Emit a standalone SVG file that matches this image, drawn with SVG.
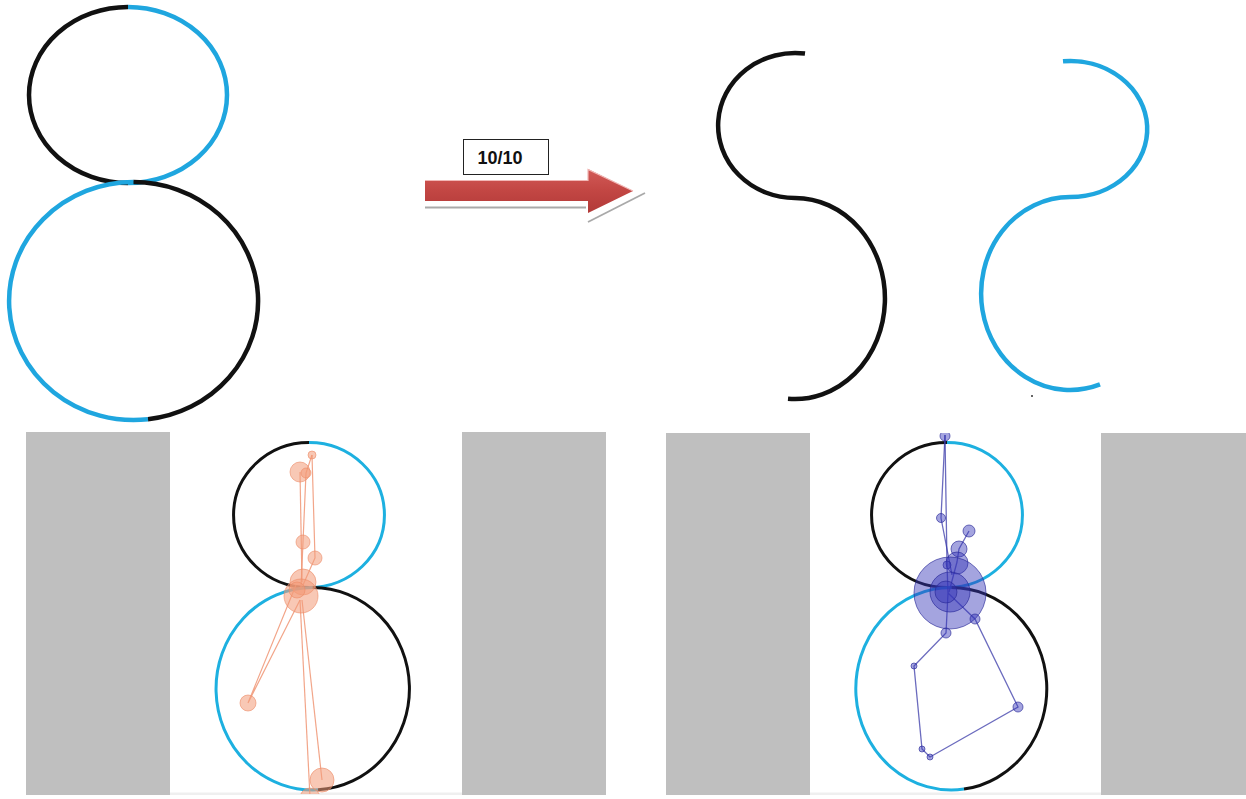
<svg xmlns="http://www.w3.org/2000/svg" width="1246" height="799" viewBox="0 0 1246 799">
  <style>
    .blk { fill: none; stroke: #111; stroke-linecap: butt; }
    .cyn { fill: none; stroke: #1fa6df; stroke-linecap: butt; }
    .big { stroke-width: 4.5; }
    .thin { stroke-width: 3; }
    .cyn2 { fill: none; stroke: #1db0e0; stroke-linecap: butt; }
    .panel { fill: #bfbfbf; }
    .og-line { stroke: #ef8f6c; stroke-opacity: 0.8; stroke-width: 1.2; fill: none; }
    .og-dot { fill: #f39a78; fill-opacity: 0.55; stroke: #ec8a66; stroke-opacity: 0.6; stroke-width: 1; }
    .bl-line { stroke: #3a3aa8; stroke-opacity: 0.75; stroke-width: 1.3; fill: none; }
    .bl-dot { fill: #3535b8; fill-opacity: 0.45; stroke: #2a2a98; stroke-opacity: 0.65; stroke-width: 1; }
    .lbl { font-family: "Liberation Sans", Arial, sans-serif; font-weight: bold; font-size: 18px; fill: #111; }
  </style>
  <defs>
    <linearGradient id="arrowFill" x1="0" y1="0" x2="0" y2="1">
      <stop offset="0" stop-color="#d25a57"/>
      <stop offset="0.5" stop-color="#c24643"/>
      <stop offset="1" stop-color="#b23a38"/>
    </linearGradient>
    <clipPath id="clipL"><rect x="170" y="432" width="292" height="362"/></clipPath>
    <clipPath id="clipR"><rect x="810" y="433" width="291" height="361"/></clipPath>
  </defs>

  <rect width="1246" height="799" fill="#fff"/>

  <!-- figure eight, two-coloured -->
  <g id="eight-top">
    <path class="blk big" d="M128,7 A99,88 0 0 0 128,183"/>
    <path class="cyn big" d="M128,7 A99,88 0 0 1 128,183"/>
    <path class="cyn big" d="M133.5,182 A124.5,119 0 1 0 148,419.2"/>
    <path class="blk big" d="M148,419.2 A124.5,119 0 0 0 133.5,182"/>
  </g>

  <!-- arrow with score label -->
  <g id="arrow">
    <line x1="425" y1="207.5" x2="586" y2="207.5" stroke="#a9a9a9" stroke-width="1.8"/>
    <line x1="588" y1="222" x2="645" y2="193" stroke="#a9a9a9" stroke-width="1.8"/>
    <polygon points="425,180 588,180 588,169 633,191 588,213 588,201 425,201" fill="url(#arrowFill)"/>
    <polyline points="425,180.5 588,180.5 588,169.5 633,191" fill="none" stroke="#f1b7b5" stroke-width="1.2"/>
  </g>
  <g id="label">
    <rect x="463.5" y="139.5" width="85" height="35" fill="#fff" stroke="#222" stroke-width="1"/>
    <text class="lbl" x="500" y="163.5" text-anchor="middle">10/10</text>
  </g>

  <!-- the two split strokes -->
  <g id="stroke-black">
    <path class="blk big" d="M805,53.6 A77,72.5 0 1 0 795,198"/>
    <path class="blk big" d="M795,198 A90,100.5 0 1 1 788,398.7"/>
  </g>
  <g id="stroke-cyan">
    <path class="cyn big" d="M1063,61.3 A77,68 0 1 1 1070,197"/>
    <path class="cyn big" d="M1070,197 A89,96.5 0 1 0 1100,384.4"/>
  </g>
  <circle cx="1032" cy="396" r="1" fill="#333"/>

  <!-- grey side panels -->
  <g id="panels">
    <rect class="panel" x="26" y="432" width="144" height="363"/>
    <rect class="panel" x="462" y="432" width="144" height="363"/>
    <rect class="panel" x="666" y="433" width="144" height="362"/>
    <rect class="panel" x="1101" y="433" width="145" height="362"/>
    <rect x="170" y="792.5" width="292" height="2.5" fill="#efefef"/>
    <rect x="810" y="792.5" width="291" height="2.5" fill="#efefef"/>
  </g>

  <!-- left trace -->
  <g id="trace-left">
    <path class="blk thin" d="M309,442.5 A75.5,72.5 0 0 0 309,587.5"/>
    <path class="cyn2 thin" d="M309,442.5 A75.5,72.5 0 0 1 309,587.5"/>
    <path class="cyn2 thin" d="M312.7,587.5 A96.7,101.25 0 1 0 318,789.85"/>
    <path class="blk thin" d="M318,789.85 A96.7,101.25 0 0 0 312.7,587.5"/>
    <g clip-path="url(#clipL)">
      <g id="connectors-left">
        <polyline class="og-line" points="312,455 315,558 303,585"/>
        <polyline class="og-line" points="312,455 306,473 303,542 301,588"/>
        <polyline class="og-line" points="300,472 302,582"/>
        <polyline class="og-line" points="296,585 248,703 300,600"/>
        <polyline class="og-line" points="300,600 310,797"/>
        <polyline class="og-line" points="302,600 322,780"/>
      </g>
      <circle class="og-dot" cx="312" cy="455" r="4"/>
      <circle class="og-dot" cx="300" cy="472" r="10"/>
      <circle class="og-dot" cx="306" cy="473" r="5"/>
      <circle class="og-dot" cx="303" cy="542" r="7"/>
      <circle class="og-dot" cx="315" cy="558" r="7"/>
      <circle class="og-dot" cx="303" cy="582" r="13"/>
      <circle class="og-dot" cx="301" cy="596" r="17"/>
      <circle class="og-dot" cx="297" cy="590" r="8"/>
      <circle class="og-dot" cx="248" cy="703" r="8"/>
      <circle class="og-dot" cx="322" cy="780" r="12"/>
      <circle class="og-dot" cx="310" cy="798" r="10"/>
    </g>
  </g>

  <!-- right trace -->
  <g id="trace-right">
    <path class="blk thin" d="M947,442.5 A75.5,72.5 0 0 0 947,587.5"/>
    <path class="cyn2 thin" d="M947,442.5 A75.5,72.5 0 0 1 947,587.5"/>
    <path class="cyn2 thin" d="M951.5,587.5 A95.5,101.25 0 1 0 964,789.1"/>
    <path class="blk thin" d="M964,789.1 A95.5,101.25 0 0 0 951.5,587.5"/>
    <g clip-path="url(#clipR)">
      <g id="connectors-right">
        <polyline class="bl-line" points="945,435 941,518 952,575"/>
        <polyline class="bl-line" points="945,435 947,565 948,593"/>
        <polyline class="bl-line" points="969,531 959,549 957,562 949,592"/>
        <polyline class="bl-line" points="948,593 946,633 914,666 922,749 930,757 1018,707 975,619 948,593"/>
      </g>
      <circle class="bl-dot" cx="945" cy="436" r="5"/>
      <circle class="bl-dot" cx="941" cy="518" r="4.5"/>
      <circle class="bl-dot" cx="969" cy="531" r="6"/>
      <circle class="bl-dot" cx="959" cy="549" r="8"/>
      <circle class="bl-dot" cx="957" cy="563" r="11"/>
      <circle class="bl-dot" cx="947" cy="565" r="4"/>
      <circle class="bl-dot" cx="950" cy="593" r="36"/>
      <circle class="bl-dot" cx="950" cy="592" r="20"/>
      <circle class="bl-dot" cx="946" cy="592" r="11"/>
      <circle class="bl-dot" cx="975" cy="619" r="5"/>
      <circle class="bl-dot" cx="946" cy="633" r="5"/>
      <circle class="bl-dot" cx="914" cy="666" r="3"/>
      <circle class="bl-dot" cx="1018" cy="707" r="5"/>
      <circle class="bl-dot" cx="922" cy="749" r="3"/>
      <circle class="bl-dot" cx="930" cy="757" r="3"/>
    </g>
  </g>
</svg>
